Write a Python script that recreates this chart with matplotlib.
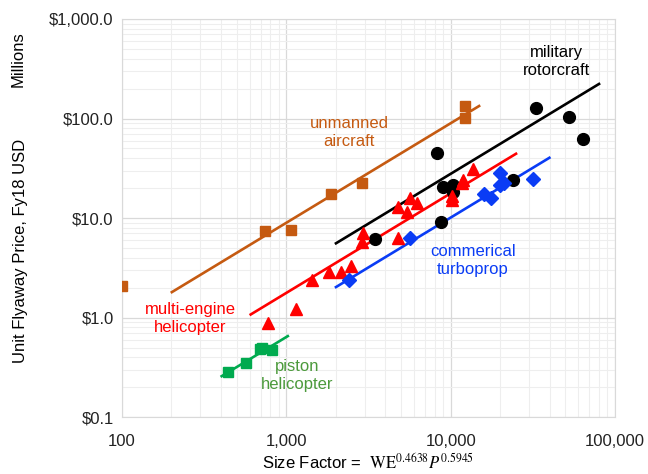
import numpy as np
import matplotlib
matplotlib.use("Agg")
import matplotlib.pyplot as plt
from matplotlib.ticker import FuncFormatter, LogLocator, NullFormatter

plt.rcParams['font.family'] = ['Liberation Sans', 'DejaVu Sans']
plt.rcParams['mathtext.fontset'] = 'stix'

# size factor (x) and unit price in $M (y) per vehicle class
uav_x = [100, 741, 1069, 1870, 2890, 12250, 12250]
uav_y = [2.07, 7.4, 7.6, 17.4, 22.5, 134, 101]

mil_x = [3470, 8300, 8700, 9040, 10400, 10400, 23800, 33100, 52400, 64000]
mil_y = [6.15, 45.3, 9.06, 20.4, 21.5, 18.1, 24.1, 127, 104, 62.7]

multi_x = [771, 1146, 1432, 1811, 2143, 2466, 2878, 2945, 4810, 4810,
           5400, 5660, 6220, 10200, 10200, 11800, 11900, 13700]
multi_y = [0.887, 1.21, 2.38, 2.88, 2.88, 3.32, 5.74, 7.06, 6.25, 13.0,
           11.6, 15.8, 14.1, 16.6, 15.2, 22.6, 24.1, 30.8]

turbo_x = [2415, 5660, 16000, 17500, 20000, 20000, 21000, 31800]
turbo_y = [2.38, 6.25, 17.5, 15.8, 28.1, 21.5, 22.5, 24.5]

piston_x = [444, 569, 692, 710, 815]
piston_y = [0.285, 0.347, 0.479, 0.50, 0.471]

# power-law trend lines: price = coef * size^exp over [x_lo, x_hi]
trend_coef = [0.00896, 0.00278, 0.00177, 0.00101, 0.000638]
trend_exp = [1.0, 1.0, 1.0, 1.0, 1.0]
trend_lo = [201, 2005, 607, 2005, 404]
trend_hi = [14900, 80000, 25000, 39900, 1021]

orange = '#C55A11'
red = '#FF0000'
blue = '#0A3CF5'
green = '#00AA4F'

fig = plt.figure(figsize=(6.48, 4.74), dpi=100)
ax = fig.add_axes([0.1883, 0.120, 0.7607, 0.840])

series = [
    (uav_x, uav_y, orange, 's', 7.5),
    (mil_x, mil_y, 'black', 'o', 8.5),
    (multi_x, multi_y, red, '^', 8.5),
    (turbo_x, turbo_y, blue, 'D', 7.5),
    (piston_x, piston_y, green, 's', 7.5),
]

for i, (xs, ys, col, mk, ms) in enumerate(series):
    lx = np.array([trend_lo[i], trend_hi[i]], dtype=float)
    ax.plot(lx, trend_coef[i] * lx ** trend_exp[i], color=col, lw=1.9, zorder=2)
    ax.plot(xs, ys, ls='none', marker=mk, ms=ms, color=col, mec=col, zorder=3)

ax.set_xscale('log')
ax.set_yscale('log')
ax.set_xlim(100, 100000)
ax.set_ylim(0.1, 1000)

ax.xaxis.set_major_formatter(FuncFormatter(lambda v, p: f"{v:,.0f}"))
ax.yaxis.set_major_formatter(FuncFormatter(lambda v, p: f"${v:,.1f}"))
ax.xaxis.set_minor_locator(LogLocator(base=10, subs=np.arange(2, 10)))
ax.yaxis.set_minor_locator(LogLocator(base=10, subs=np.arange(2, 10)))
ax.xaxis.set_minor_formatter(NullFormatter())
ax.yaxis.set_minor_formatter(NullFormatter())

ax.grid(which='major', color='#D9D9D9', lw=0.9)
ax.grid(which='minor', color='#EEEEEE', lw=0.8)
ax.set_axisbelow(True)
for s in ax.spines.values():
    s.set_color('#D9D9D9')
ax.tick_params(which='both', length=0, labelsize=12, colors='#222222')
ax.tick_params(axis='x', pad=12)
ax.tick_params(axis='y', pad=6)

ax.set_xlabel(r"Size Factor =  $\mathrm{WE}^{0.4638}P^{0.5945}$", fontsize=12, labelpad=2)
ax.set_ylabel("Unit Flyaway Price, Fy18 USD", fontsize=12)
ax.yaxis.set_label_coords(-0.191, 0.417)
fig.text(0.028, 0.875, "Millions", rotation=90, fontsize=12, ha='center', va='center')

lab = dict(fontsize=12, ha='center', va='center', linespacing=1.25)
ax.text(2410, 73, "unmanned\naircraft", color=orange, **lab)
ax.text(43900, 370, "military\nrotorcraft", color='black', **lab)
ax.text(259, 0.99, "multi-engine\nhelicopter", color=red, **lab)
ax.text(13700, 3.78, "commerical\nturboprop", color=blue, **lab)
ax.text(1162, 0.264, "piston\nhelicopter", color='#4C9A3C', **lab)

fig.savefig("out.png", dpi=100)
